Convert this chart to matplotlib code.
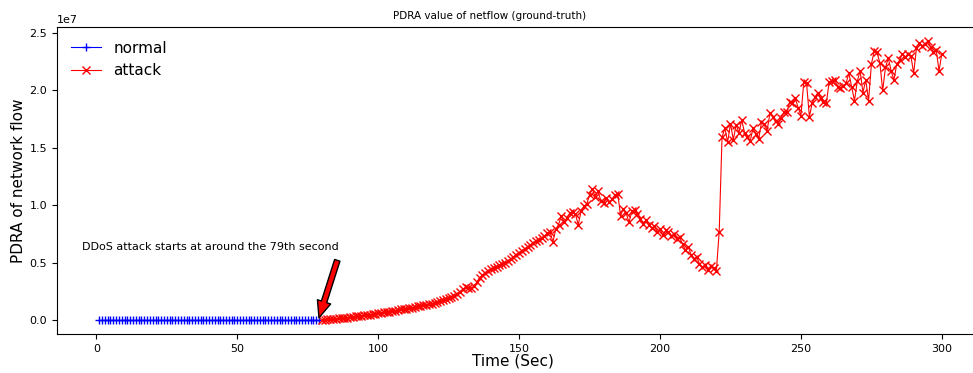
import numpy as np
import matplotlib
matplotlib.use("Agg")
import matplotlib.pyplot as plt

# time axis (seconds)
normal_time = np.arange(1, 80)
attack_time = np.arange(80, 301)

# PDRA before the attack stays flat
normal_pdra = [0.0] * len(normal_time)

# PDRA after the attack starts, in units of 1e6
attack_pdra = [
    # 80 - 100
    0.02, 0.04, 0.06, 0.08, 0.10, 0.12, 0.14, 0.17, 0.20, 0.22, 0.25,
    0.28, 0.31, 0.34, 0.37, 0.41, 0.44, 0.48, 0.52, 0.56, 0.60,
    # 101 - 120
    0.64, 0.66, 0.71, 0.74, 0.79, 0.82, 0.86, 0.92, 0.95, 1.00,
    1.05, 1.08, 1.15, 1.18, 1.24, 1.28, 1.33, 1.40, 1.44, 1.50,
    # 121 - 135
    1.58, 1.62, 1.72, 1.80, 1.92, 2.00, 2.12, 2.30, 2.45, 2.70,
    2.85, 2.80, 2.75, 2.95, 3.30,
    # 136 - 190
    3.7, 3.9, 4.1, 4.3, 4.45, 4.5, 4.65, 4.75, 4.85, 4.95,
    5.15, 5.3, 5.5, 5.7, 5.85, 6.05, 6.2, 6.35, 6.55, 6.7,
    6.9, 7.0, 7.15, 7.3, 7.55, 7.65, 6.8, 7.9, 8.3, 9.1,
    8.5, 8.9, 9.3, 9.4, 9.2, 8.3, 9.5, 9.9, 10.1, 10.9,
    11.4, 10.7, 11.2, 10.4, 10.2, 10.6, 10.3, 10.5, 10.9, 11.0,
    9.1, 9.7, 9.3, 8.5, 9.5,
    # 191 - 221
    9.6, 9.2, 8.8, 8.4, 8.7, 8.3, 8.0, 8.2, 7.7, 7.9,
    7.4, 7.8, 7.7, 7.3, 7.5, 7.1, 7.2, 6.6, 6.1, 6.4,
    5.7, 5.3, 5.5, 4.9, 4.6, 4.8, 4.4, 4.7, 4.5, 4.3,
    7.7,
    # 222 - 260
    15.9, 16.7, 15.5, 17.1, 15.7, 17.0, 16.3, 17.4, 16.3, 15.9,
    15.6, 16.7, 16.2, 15.8, 17.2, 17.1, 16.5, 18.0, 17.7, 17.3,
    17.1, 17.6, 18.1, 18.1, 19.0, 18.9, 19.3, 18.5, 17.8, 20.7,
    20.6, 17.7, 18.9, 19.4, 19.8, 19.3, 19.0, 18.9, 20.7,
    # 261 - 300
    20.8, 20.9, 20.3, 20.2, 20.4, 20.6, 21.5, 20.3, 19.1, 20.8,
    21.7, 19.8, 20.9, 19.1, 22.3, 23.4, 23.3, 22.4, 20.0, 22.0,
    22.8, 21.7, 20.9, 22.3, 22.6, 23.2, 22.9, 23.2, 23.0, 21.5,
    23.7, 24.1, 23.9, 24.0, 24.3, 23.8, 23.3, 23.5, 21.7, 23.2,
]
attack_pdra = np.array(attack_pdra) * 1e6

attack_start = 79

fig = plt.figure(figsize=(9.73, 3.73), dpi=100)
# the right spine sits just past the edge of the figure
ax = fig.add_axes([57 / 973, 39 / 373, 927 / 973, 307 / 373])

ax.plot(normal_time, normal_pdra, color="b", marker="+", markersize=5.5, lw=0.8, label="normal")
ax.plot(attack_time, attack_pdra, color="r", marker="x", markersize=5.5, lw=0.8, label="attack")

ax.annotate("", xy=(attack_start, 0.2e6), xytext=(85.5, 5.2e6),
            arrowprops=dict(facecolor="red", edgecolor="black", width=4,
                            headwidth=10, headlength=12, shrink=0.0))
ax.text(40.4, 6.35e6, "DDoS attack starts at around the 79th second",
        ha="center", va="center", fontsize=8)

ax.set_title("PDRA value of netflow (ground-truth)", fontsize=7.5, x=0.467)
ax.set_xlabel("Time (Sec)", fontsize=11)
ax.set_ylabel("PDRA of network flow", fontsize=11)
ax.xaxis.set_label_coords(0.492, -0.063)
ax.yaxis.set_label_coords(-0.033, 0.5)
ax.tick_params(labelsize=8)
ax.yaxis.get_offset_text().set_fontsize(8)

ax.legend(loc="upper left", frameon=False, fontsize=11)

fig.savefig("out.png", dpi=100)
